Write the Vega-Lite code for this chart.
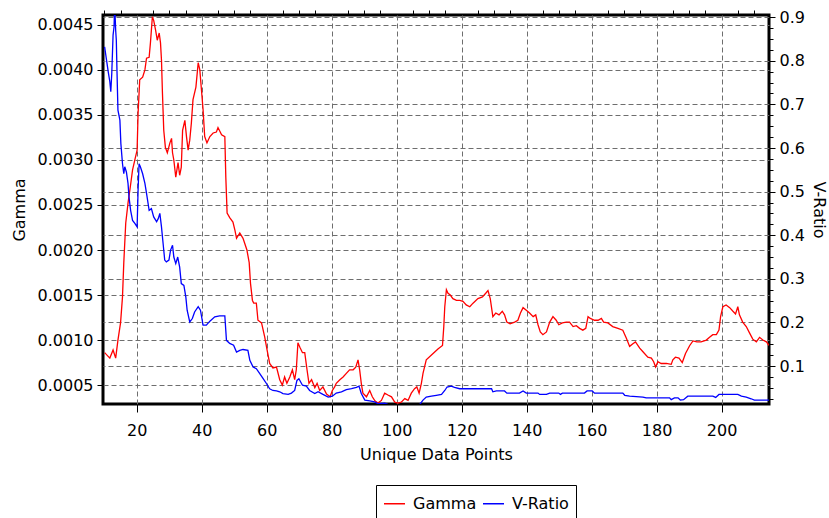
{
  "$schema": "https://vega.github.io/schema/vega-lite/v6.json",
  "width": 666,
  "height": 389,
  "autosize": {"type": "none"},
  "padding": {"left": 103, "top": 15, "right": 60, "bottom": 114},
  "background": "white",
  "config": {
    "font": "DejaVu Sans",
    "view": {"stroke": "#000", "strokeWidth": 3},
    "axis": {
      "labelFontSize": 16, "titleFontSize": 16, "titleFontWeight": "normal",
      "labelColor": "#000", "titleColor": "#000", "tickColor": "#000",
      "gridColor": "#6e6e6e", "gridDash": [5, 3], "gridWidth": 1, "domain": false, "tickWidth": 1
    }
  },
  "datasets": {
    "gamma": [
      {"x":10.1,"v":0.00086},{"x":11.7,"v":0.0008},{"x":12.7,"v":0.00089},{"x":13.5,"v":0.0008},{"x":14.2,"v":0.001},{"x":15.0,"v":0.00119},{"x":15.6,"v":0.00148},{"x":16.0,"v":0.00186},{"x":16.6,"v":0.0023},{"x":17.3,"v":0.00252},{"x":18.0,"v":0.0027},{"x":18.7,"v":0.00289},{"x":19.4,"v":0.003},{"x":20.1,"v":0.00311},{"x":20.4,"v":0.00352},{"x":20.9,"v":0.00389},{"x":21.8,"v":0.00392},{"x":22.5,"v":0.004},{"x":23.0,"v":0.00413},{"x":23.8,"v":0.00414},{"x":24.2,"v":0.0043},{"x":24.8,"v":0.00459},{"x":25.2,"v":0.00455},{"x":25.8,"v":0.00444},{"x":26.3,"v":0.00433},{"x":26.9,"v":0.00441},{"x":27.3,"v":0.0043},{"x":27.6,"v":0.00411},{"x":27.9,"v":0.00374},{"x":28.3,"v":0.00333},{"x":28.8,"v":0.00314},{"x":29.4,"v":0.00308},{"x":30.2,"v":0.00319},{"x":30.7,"v":0.00324},{"x":31.0,"v":0.00308},{"x":31.4,"v":0.003},{"x":32.0,"v":0.00281},{"x":32.7,"v":0.00297},{"x":33.2,"v":0.00283},{"x":33.7,"v":0.00292},{"x":34.1,"v":0.00333},{"x":34.8,"v":0.00344},{"x":35.3,"v":0.00326},{"x":35.8,"v":0.00311},{"x":36.3,"v":0.00322},{"x":36.8,"v":0.00341},{"x":37.3,"v":0.00367},{"x":38.2,"v":0.00381},{"x":38.9,"v":0.00408},{"x":39.4,"v":0.004},{"x":39.9,"v":0.00378},{"x":40.4,"v":0.00356},{"x":40.9,"v":0.00326},{"x":41.6,"v":0.00319},{"x":42.5,"v":0.00326},{"x":43.5,"v":0.0033},{"x":44.5,"v":0.00331},{"x":45.0,"v":0.00336},{"x":46.1,"v":0.00328},{"x":47.1,"v":0.00326},{"x":47.4,"v":0.00281},{"x":47.8,"v":0.00241},{"x":48.6,"v":0.00236},{"x":49.6,"v":0.00231},{"x":50.2,"v":0.00222},{"x":50.7,"v":0.00213},{"x":51.7,"v":0.00219},{"x":52.7,"v":0.00213},{"x":53.9,"v":0.002},{"x":54.6,"v":0.00186},{"x":55.0,"v":0.00163},{"x":55.6,"v":0.00144},{"x":56.0,"v":0.00141},{"x":56.8,"v":0.00141},{"x":57.3,"v":0.00122},{"x":58.4,"v":0.00119},{"x":59.4,"v":0.00103},{"x":60.1,"v":0.00089},{"x":60.9,"v":0.00074},{"x":61.9,"v":0.00069},{"x":63.0,"v":0.0007},{"x":64.0,"v":0.00056},{"x":64.8,"v":0.0005},{"x":65.5,"v":0.00059},{"x":66.2,"v":0.00052},{"x":67.1,"v":0.00059},{"x":67.9,"v":0.00067},{"x":68.6,"v":0.00056},{"x":69.1,"v":0.00067},{"x":69.6,"v":0.00097},{"x":70.2,"v":0.00092},{"x":71.0,"v":0.00086},{"x":71.7,"v":0.00086},{"x":72.4,"v":0.00067},{"x":73.0,"v":0.00052},{"x":73.8,"v":0.00056},{"x":74.8,"v":0.00047},{"x":75.5,"v":0.00052},{"x":76.3,"v":0.00044},{"x":77.3,"v":0.00048},{"x":78.4,"v":0.0004},{"x":79.5,"v":0.00037},{"x":80.2,"v":0.00044},{"x":80.9,"v":0.00048},{"x":81.4,"v":0.00052},{"x":82.5,"v":0.00056},{"x":83.5,"v":0.00059},{"x":84.5,"v":0.00063},{"x":85.5,"v":0.00067},{"x":86.6,"v":0.00067},{"x":87.4,"v":0.0007},{"x":88.1,"v":0.00078},{"x":88.6,"v":0.00067},{"x":89.1,"v":0.00052},{"x":89.6,"v":0.00041},{"x":90.7,"v":0.00037},{"x":91.7,"v":0.00044},{"x":92.5,"v":0.00037},{"x":93.2,"v":0.00033},{"x":94.2,"v":0.0003},{"x":95.3,"v":0.00033},{"x":96.3,"v":0.00041},{"x":97.3,"v":0.00039},{"x":98.4,"v":0.00037},{"x":99.4,"v":0.00031},{"x":100.4,"v":0.0003},{"x":101.4,"v":0.00031},{"x":102.5,"v":0.00035},{"x":103.5,"v":0.00033},{"x":104.5,"v":0.00041},{"x":105.5,"v":0.00046},{"x":106.2,"v":0.00048},{"x":106.9,"v":0.00041},{"x":107.6,"v":0.00052},{"x":108.1,"v":0.00063},{"x":109.1,"v":0.00078},{"x":111.2,"v":0.00085},{"x":112.7,"v":0.0009},{"x":114.1,"v":0.00094},{"x":114.5,"v":0.00115},{"x":114.8,"v":0.00137},{"x":115.3,"v":0.00156},{"x":115.8,"v":0.00152},{"x":116.5,"v":0.0015},{"x":117.3,"v":0.00146},{"x":118.4,"v":0.00144},{"x":119.4,"v":0.00144},{"x":120.4,"v":0.00143},{"x":121.4,"v":0.00139},{"x":122.5,"v":0.00137},{"x":123.5,"v":0.00141},{"x":125.0,"v":0.00146},{"x":126.4,"v":0.00148},{"x":127.4,"v":0.00152},{"x":128.1,"v":0.00155},{"x":128.8,"v":0.00146},{"x":129.6,"v":0.00126},{"x":130.5,"v":0.0013},{"x":131.5,"v":0.00128},{"x":132.5,"v":0.00132},{"x":133.2,"v":0.00128},{"x":133.9,"v":0.0012},{"x":134.9,"v":0.00118},{"x":136.3,"v":0.0012},{"x":137.3,"v":0.00122},{"x":138.1,"v":0.0013},{"x":138.9,"v":0.00136},{"x":139.9,"v":0.00133},{"x":140.9,"v":0.0013},{"x":142.0,"v":0.00126},{"x":142.8,"v":0.00128},{"x":143.5,"v":0.00117},{"x":144.2,"v":0.00109},{"x":145.0,"v":0.00106},{"x":146.1,"v":0.00109},{"x":147.1,"v":0.0012},{"x":148.1,"v":0.00126},{"x":149.1,"v":0.00122},{"x":149.9,"v":0.00117},{"x":151.0,"v":0.00119},{"x":152.2,"v":0.0012},{"x":153.2,"v":0.0012},{"x":154.3,"v":0.00115},{"x":155.3,"v":0.00116},{"x":156.3,"v":0.00113},{"x":157.3,"v":0.00111},{"x":158.2,"v":0.00113},{"x":158.9,"v":0.00126},{"x":159.6,"v":0.00124},{"x":160.9,"v":0.00122},{"x":162.0,"v":0.00122},{"x":163.0,"v":0.00124},{"x":163.7,"v":0.0012},{"x":165.0,"v":0.00119},{"x":166.5,"v":0.00115},{"x":168.1,"v":0.00113},{"x":169.6,"v":0.00111},{"x":170.7,"v":0.00102},{"x":171.7,"v":0.00093},{"x":172.7,"v":0.00096},{"x":173.5,"v":0.00098},{"x":174.8,"v":0.00091},{"x":175.8,"v":0.00087},{"x":177.3,"v":0.00081},{"x":178.4,"v":0.0008},{"x":179.1,"v":0.00076},{"x":179.7,"v":0.0007},{"x":180.4,"v":0.00076},{"x":181.4,"v":0.00074},{"x":183.0,"v":0.00074},{"x":184.5,"v":0.00073},{"x":185.0,"v":0.00078},{"x":185.8,"v":0.00081},{"x":186.9,"v":0.0008},{"x":187.9,"v":0.00075},{"x":188.9,"v":0.00085},{"x":190.2,"v":0.00094},{"x":191.2,"v":0.00099},{"x":192.4,"v":0.00098},{"x":193.7,"v":0.00098},{"x":195.3,"v":0.001},{"x":196.3,"v":0.00103},{"x":197.3,"v":0.00106},{"x":198.4,"v":0.00106},{"x":199.2,"v":0.00111},{"x":199.7,"v":0.00126},{"x":200.4,"v":0.00137},{"x":201.4,"v":0.00139},{"x":202.5,"v":0.00136},{"x":203.5,"v":0.00132},{"x":204.3,"v":0.00129},{"x":205.0,"v":0.00137},{"x":205.5,"v":0.00128},{"x":206.5,"v":0.0012},{"x":207.6,"v":0.00115},{"x":208.6,"v":0.00108},{"x":209.6,"v":0.00101},{"x":210.7,"v":0.00098},{"x":211.7,"v":0.00103},{"x":212.7,"v":0.001},{"x":213.8,"v":0.00098},{"x":214.6,"v":0.00094}
    ],
    "vratio": [
      {"x":10.1,"v":0.832},{"x":10.7,"v":0.801},{"x":11.2,"v":0.775},{"x":11.7,"v":0.752},{"x":12.0,"v":0.729},{"x":12.3,"v":0.771},{"x":12.7,"v":0.859},{"x":13.0,"v":0.878},{"x":13.2,"v":0.93},{"x":13.5,"v":0.87},{"x":13.7,"v":0.847},{"x":13.9,"v":0.778},{"x":14.2,"v":0.687},{"x":14.8,"v":0.664},{"x":15.1,"v":0.61},{"x":15.6,"v":0.564},{"x":16.0,"v":0.541},{"x":16.3,"v":0.557},{"x":16.8,"v":0.545},{"x":17.3,"v":0.519},{"x":17.6,"v":0.488},{"x":18.1,"v":0.457},{"x":18.7,"v":0.434},{"x":19.4,"v":0.427},{"x":20.1,"v":0.419},{"x":20.4,"v":0.503},{"x":20.7,"v":0.564},{"x":21.1,"v":0.557},{"x":21.8,"v":0.541},{"x":22.5,"v":0.519},{"x":23.0,"v":0.496},{"x":23.8,"v":0.457},{"x":24.5,"v":0.461},{"x":25.2,"v":0.442},{"x":26.1,"v":0.431},{"x":26.6,"v":0.438},{"x":27.1,"v":0.45},{"x":27.6,"v":0.419},{"x":28.1,"v":0.381},{"x":28.6,"v":0.343},{"x":29.1,"v":0.339},{"x":29.9,"v":0.343},{"x":30.4,"v":0.366},{"x":31.0,"v":0.377},{"x":31.4,"v":0.35},{"x":32.0,"v":0.335},{"x":32.6,"v":0.35},{"x":33.2,"v":0.327},{"x":33.7,"v":0.289},{"x":34.5,"v":0.285},{"x":35.1,"v":0.258},{"x":35.5,"v":0.228},{"x":36.3,"v":0.201},{"x":37.1,"v":0.209},{"x":37.8,"v":0.224},{"x":38.9,"v":0.236},{"x":39.6,"v":0.228},{"x":40.4,"v":0.194},{"x":41.4,"v":0.194},{"x":42.5,"v":0.203},{"x":44.0,"v":0.213},{"x":45.5,"v":0.215},{"x":47.1,"v":0.215},{"x":47.6,"v":0.159},{"x":48.6,"v":0.152},{"x":49.8,"v":0.148},{"x":50.7,"v":0.132},{"x":51.7,"v":0.136},{"x":52.7,"v":0.138},{"x":54.2,"v":0.136},{"x":54.8,"v":0.113},{"x":55.8,"v":0.098},{"x":56.8,"v":0.094},{"x":57.8,"v":0.083},{"x":58.9,"v":0.071},{"x":59.9,"v":0.06},{"x":60.9,"v":0.048},{"x":61.9,"v":0.044},{"x":63.0,"v":0.043},{"x":64.0,"v":0.041},{"x":65.0,"v":0.037},{"x":66.6,"v":0.035},{"x":67.6,"v":0.038},{"x":68.6,"v":0.044},{"x":69.3,"v":0.067},{"x":69.9,"v":0.071},{"x":71.0,"v":0.056},{"x":72.2,"v":0.054},{"x":73.2,"v":0.044},{"x":74.8,"v":0.037},{"x":75.8,"v":0.041},{"x":77.3,"v":0.035},{"x":78.9,"v":0.029},{"x":80.2,"v":0.031},{"x":81.4,"v":0.038},{"x":83.0,"v":0.041},{"x":84.5,"v":0.046},{"x":86.1,"v":0.048},{"x":87.6,"v":0.051},{"x":88.4,"v":0.054},{"x":89.1,"v":0.037},{"x":90.2,"v":0.022},{"x":91.7,"v":0.02},{"x":93.2,"v":0.018},{"x":94.2,"v":0.014},{"x":96.3,"v":0.015},{"x":97.3,"v":0.012},{"x":100.0,"v":0.01},{"x":105.0,"v":0.01},{"x":107.1,"v":0.012},{"x":108.1,"v":0.022},{"x":109.1,"v":0.029},{"x":110.7,"v":0.031},{"x":112.2,"v":0.033},{"x":113.8,"v":0.035},{"x":114.8,"v":0.044},{"x":115.5,"v":0.052},{"x":116.8,"v":0.054},{"x":117.8,"v":0.051},{"x":119.4,"v":0.048},{"x":129.2,"v":0.048},{"x":129.6,"v":0.041},{"x":130.7,"v":0.043},{"x":133.2,"v":0.043},{"x":133.9,"v":0.038},{"x":137.8,"v":0.038},{"x":138.9,"v":0.043},{"x":139.9,"v":0.038},{"x":143.5,"v":0.038},{"x":144.0,"v":0.035},{"x":146.1,"v":0.035},{"x":147.1,"v":0.038},{"x":149.9,"v":0.038},{"x":150.4,"v":0.035},{"x":151.0,"v":0.038},{"x":157.8,"v":0.038},{"x":158.6,"v":0.043},{"x":160.2,"v":0.043},{"x":160.9,"v":0.038},{"x":169.6,"v":0.038},{"x":170.2,"v":0.033},{"x":171.7,"v":0.031},{"x":175.8,"v":0.029},{"x":176.8,"v":0.027},{"x":184.0,"v":0.027},{"x":184.5,"v":0.023},{"x":185.5,"v":0.027},{"x":186.6,"v":0.027},{"x":187.3,"v":0.022},{"x":188.3,"v":0.023},{"x":189.6,"v":0.031},{"x":197.3,"v":0.031},{"x":198.2,"v":0.028},{"x":199.2,"v":0.035},{"x":205.0,"v":0.035},{"x":206.1,"v":0.031},{"x":207.6,"v":0.029},{"x":209.1,"v":0.025},{"x":210.1,"v":0.022},{"x":214.6,"v":0.022}
    ]
  },
  "resolve": {"scale": {"y": "independent"}, "axis": {"x": "independent", "y": "independent"}},
  "layer": [
    {
      "data": {"name": "gamma"},
      "mark": {"type": "line", "strokeWidth": 1.3, "clip": true},
      "encoding": {
        "x": {"field": "x", "type": "quantitative", "scale": {"domain": [9.6, 214.6], "nice": false, "zero": false},
          "axis": {"values": [20,40,60,80,100,120,140,160,180,200], "grid": true, "tickSize": 8, "labelPadding": 10, "title": "Unique Data Points", "titlePadding": 8, "labelFlush": false}},
        "y": {"field": "v", "type": "quantitative", "scale": {"domain": [0.00029, 0.00461], "nice": false, "zero": false},
          "axis": {"values": [0.0005,0.001,0.0015,0.002,0.0025,0.003,0.0035,0.004,0.0045], "format": ".4f", "grid": true, "tickSize": 6, "labelPadding": 4, "title": "Gamma", "titlePadding": 10}},
        "color": {"datum": "Gamma", "type": "nominal",
          "scale": {"domain": ["Gamma", "V-Ratio"], "range": ["#ff0000", "#0000ff"]},
          "legend": {"orient": "none", "legendX": 273, "legendY": 470, "direction": "horizontal", "title": null,
            "symbolType": "stroke", "symbolStrokeWidth": 1.5, "symbolSize": 441, "labelFontSize": 16, "labelColor": "#000",
            "strokeColor": "#000", "fillColor": "#fff", "padding": 7, "columnPadding": 3, "labelOffset": 7}}
      }
    },
    {
      "data": {"name": "vratio"},
      "mark": {"type": "line", "strokeWidth": 1.3, "clip": true},
      "encoding": {
        "x": {"field": "x", "type": "quantitative", "scale": {"domain": [9.6, 214.6], "nice": false, "zero": false}, "axis": null},
        "y": {"field": "v", "type": "quantitative", "scale": {"domain": [0.013, 0.905], "nice": false, "zero": false},
          "axis": {"orient": "right", "values": [0.1,0.2,0.3,0.4,0.5,0.6,0.7,0.8,0.9], "format": ".1f", "grid": true, "tickSize": 6, "labelPadding": 4, "title": "V-Ratio", "titlePadding": 6}},
        "color": {"datum": "V-Ratio", "type": "nominal"}
      }
    },
    {
      "data": {"name": "gamma"},
      "mark": {"type": "line", "opacity": 0},
      "encoding": {
        "x": {"field": "x", "type": "quantitative", "scale": {"domain": [9.6, 214.6], "nice": false, "zero": false},
          "axis": {"values": [10,15,25,30,35,45,50,55,65,70,75,85,90,95,105,110,115,125,130,135,145,150,155,165,170,175,185,190,195,205,210], "labels": false, "grid": false, "tickSize": 5, "title": null}},
        "y": {"field": "v", "type": "quantitative", "scale": {"domain": [0.00029, 0.00461], "nice": false, "zero": false}, "axis": null}
      }
    },
    {
      "data": {"name": "vratio"},
      "mark": {"type": "line", "opacity": 0},
      "encoding": {
        "x": {"field": "x", "type": "quantitative", "scale": {"domain": [9.6, 214.6], "nice": false, "zero": false}, "axis": null},
        "y": {"field": "v", "type": "quantitative", "scale": {"domain": [0.013, 0.905], "nice": false, "zero": false},
          "axis": {"orient": "right", "values": [0.025,0.05,0.075,0.125,0.15,0.175,0.225,0.25,0.275,0.325,0.35,0.375,0.425,0.45,0.475,0.525,0.55,0.575,0.625,0.65,0.675,0.725,0.75,0.775,0.825,0.85,0.875], "labels": false, "grid": false, "tickSize": 4, "title": null}}
      }
    }
  ]
}
